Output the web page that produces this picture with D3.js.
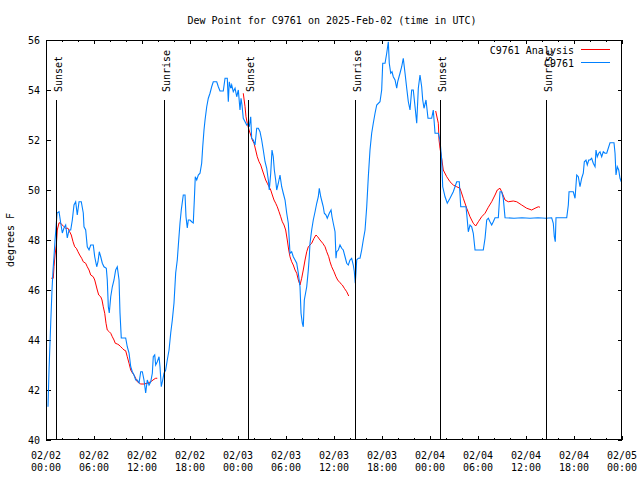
<!DOCTYPE html>
<html><head><meta charset="utf-8">
<script src="https://cdn.jsdelivr.net/npm/d3@7"></script>
<style>
html,body{margin:0;padding:0;background:#fff;}
svg{display:block;font-family:"DejaVu Sans Mono",monospace;font-size:10px;}
</style></head><body>
<svg id="chart" width="640" height="480"></svg>
<script>
const chartTitle = "Dew Point for C9761 on 2025-Feb-02 (time in UTC)";
const yAxisLabel = "degrees F";
const seriesNames = ["C9761 Analysis", "C9761"];
const seriesColors = ["#ff0000", "#0080ff"];
const yTickValues = [40, 42, 44, 46, 48, 50, 52, 54, 56];
const xMajorHours = [0, 6, 12, 18, 24, 30, 36, 42, 48, 54, 60, 66, 72];
const xMinorHours = [2, 4, 8, 10, 14, 16, 20, 22, 26, 28, 32, 34, 38, 40, 44, 46, 50, 52, 56, 58, 62, 64, 68, 70];
const sunHours = [1.30, 14.78, 25.25, 38.66, 49.25, 62.6];
const sunLabels = ["Sunset", "Sunrise", "Sunset", "Sunrise", "Sunset", "Sunrise"];

// Observations: [hours since 2025-02-02 00:00 UTC, dew point F]
const observed = [
[0.25,41.33],[0.38,42.8],[0.59,44.68],[0.75,46.0],[0.88,46.8],[1.0,47.33],[1.13,48.0],[1.25,48.48],[1.38,49.08],[1.63,49.13],
[1.84,48.68],[2.04,48.28],[2.25,48.48],[2.46,48.6],[2.66,48.08],[2.88,48.4],[3.09,48.4],[3.29,48.8],[3.5,49.4],[3.71,49.53],
[3.91,49.0],[4.13,49.53],[4.41,49.53],[4.66,49.08],[4.75,48.53],[4.96,48.4],[5.16,47.73],[5.38,47.6],[5.59,47.8],[5.91,47.8],
[6.09,47.33],[6.34,46.93],[6.5,47.13],[6.66,47.53],[6.84,47.33],[7.04,47.07],[7.25,46.93],[7.54,46.87],[7.66,46.4],[7.79,45.33],
[7.91,45.08],[8.09,45.73],[8.29,46.13],[8.5,46.4],[8.71,46.8],[8.91,46.93],[9.13,46.4],[9.25,45.08],[9.41,44.08],[9.96,44.08],
[10.16,43.73],[10.38,43.48],[10.59,42.93],[10.79,42.73],[11.0,42.6],[11.21,42.4],[11.41,42.4],[11.63,42.28],[11.84,42.73],[12.04,42.73],
[12.25,42.4],[12.46,41.88],[12.66,42.4],[12.88,42.2],[13.09,42.33],[13.29,42.67],[13.41,43.33],[13.59,43.4],[13.71,43.0],[13.91,43.13],
[14.13,43.33],[14.25,42.93],[14.41,42.13],[14.59,42.4],[14.75,42.67],[14.96,42.8],[15.16,43.2],[15.38,43.6],[15.59,44.28],[15.79,44.8],
[16.0,45.48],[16.21,46.68],[16.41,47.2],[16.59,48.0],[16.75,48.68],[16.91,49.2],[17.16,49.8],[17.38,49.8],[17.5,48.93],[17.66,48.48],
[17.79,48.8],[18.0,48.8],[18.21,48.73],[18.41,48.68],[18.54,49.6],[18.66,50.53],[18.84,50.4],[19.04,50.6],[19.25,50.67],[19.46,51.07],
[19.59,51.73],[19.75,52.4],[19.88,52.8],[20.09,53.33],[20.29,53.67],[20.5,53.87],[20.71,54.13],[20.91,54.33],[21.34,54.33],[21.54,54.13],
[21.75,53.96],[22.16,53.96],[22.38,54.47],[22.66,54.47],[22.79,53.53],[22.91,54.33],[23.09,54.07],[23.21,54.2],[23.41,53.93],[23.63,54.07],
[23.84,53.73],[24.04,54.0],[24.25,53.2],[24.38,53.67],[24.5,53.4],[24.66,52.87],[24.88,52.73],[25.09,52.6],[25.29,52.67],[25.41,52.53],
[25.59,52.93],[25.71,52.07],[25.91,52.0],[26.13,51.8],[26.34,52.47],[26.54,52.47],[26.75,52.33],[26.96,52.0],[27.16,51.6],[27.38,51.13],
[27.59,50.87],[27.79,50.4],[27.91,50.0],[28.09,50.67],[28.25,51.6],[28.41,51.33],[28.54,50.8],[28.71,50.4],[28.84,50.0],[29.04,50.27],
[29.25,50.6],[29.46,50.13],[29.66,49.87],[29.88,49.6],[30.09,49.07],[30.29,48.67],[30.5,47.47],[30.71,47.53],[30.91,47.33],[31.13,47.2],
[31.34,47.07],[31.54,46.67],[31.75,46.13],[31.88,45.07],[32.04,44.67],[32.16,44.53],[32.29,45.6],[32.59,46.13],[32.79,46.8],[32.91,47.33],
[33.0,47.87],[33.21,48.4],[33.41,48.8],[33.63,49.13],[33.84,49.47],[34.04,49.73],[34.16,50.07],[34.34,49.73],[34.5,49.53],[34.66,49.33],
[34.79,49.07],[35.0,49.0],[35.16,48.87],[35.41,49.07],[35.63,49.2],[35.75,48.93],[35.91,48.67],[36.13,48.33],[36.25,47.27],[36.34,47.53],
[36.54,47.6],[36.75,47.8],[36.96,47.67],[37.16,47.6],[37.38,47.33],[37.59,47.07],[37.79,47.0],[38.0,47.2],[38.21,47.27],[38.41,47.0],
[38.54,46.73],[38.66,46.27],[38.84,47.2],[39.04,47.27],[39.25,47.27],[39.46,47.6],[39.66,48.0],[39.88,48.4],[40.09,49.33],[40.29,50.53],
[40.5,51.6],[40.71,52.27],[40.91,52.67],[41.13,53.07],[41.34,53.4],[41.75,53.53],[41.96,54.0],[42.09,55.07],[42.38,55.07],[42.59,55.47],
[42.79,55.93],[42.91,55.07],[43.09,54.67],[43.25,54.73],[43.41,54.53],[43.63,54.4],[43.84,54.07],[43.96,54.33],[44.13,54.53],[44.25,54.67],
[44.46,54.93],[44.66,55.27],[44.88,54.67],[45.09,54.07],[45.29,53.53],[45.5,53.2],[45.71,54.0],[45.91,54.0],[46.13,53.33],[46.34,52.67],
[46.54,54.07],[46.75,54.6],[46.96,54.13],[47.09,53.6],[47.25,53.27],[47.5,53.6],[47.75,52.87],[48.21,52.87],[48.41,53.2],[48.63,52.27],
[49.04,52.27],[49.25,52.0],[49.46,51.2],[49.59,50.13],[49.88,49.73],[50.16,49.47],[50.5,49.67],[50.91,49.93],[51.34,50.33],[51.66,50.33],
[51.84,49.33],[52.5,49.33],[52.66,48.8],[52.79,48.33],[53.0,48.6],[53.21,48.53],[53.41,48.27],[53.63,47.6],[54.66,47.6],[54.88,48.07],
[55.09,48.8],[55.29,48.87],[55.5,48.73],[55.71,48.6],[55.91,48.73],[56.13,48.89],[56.54,48.89],[56.75,49.93],[56.96,49.93],[57.16,49.67],
[57.38,48.89],[58.5,48.87],[59.5,48.89],[60.5,48.87],[61.5,48.89],[62.5,48.87],[63.21,48.89],[63.41,48.67],[63.54,48.13],[63.66,47.93],
[63.75,48.89],[65.09,48.89],[65.29,49.4],[65.38,49.93],[65.91,49.93],[66.13,49.67],[66.34,50.6],[66.54,50.53],[66.75,50.13],[66.96,50.47],
[67.16,50.67],[67.29,51.13],[67.5,51.2],[67.66,51.0],[67.84,51.2],[68.0,51.2],[68.21,51.27],[68.41,51.07],[68.63,50.93],[68.75,51.6],
[68.91,51.33],[69.09,51.47],[69.25,51.53],[69.46,51.33],[69.66,51.53],[69.88,51.47],[70.09,51.47],[70.5,51.89],[71.0,51.89],[71.13,51.47],
[71.25,50.6],[71.41,50.93],[71.59,50.8],[71.75,50.47],[71.91,50.33]
];

// Analysis, three separate runs
const analysisRun1 = [
[0.66,46.47],[0.91,46.47],[1.0,46.93],[1.13,47.4],[1.29,47.8],[1.41,48.4],[1.63,48.69],[1.84,48.67],[2.04,48.6],[2.25,48.53],
[2.46,48.47],[2.75,48.47],[2.96,48.33],[3.16,48.2],[3.38,47.93],[3.59,47.73],[3.79,47.67],[4.0,47.53],[4.21,47.4],[4.46,47.27],
[4.66,47.13],[4.96,47.07],[5.16,46.93],[5.38,46.8],[5.59,46.6],[5.91,46.53],[6.09,46.4],[6.25,46.2],[6.41,46.0],[6.59,45.8],
[6.84,45.73],[7.0,45.6],[7.16,45.33],[7.34,45.07],[7.5,44.67],[7.66,44.4],[7.91,44.33],[8.09,44.27],[8.29,44.13],[8.5,44.0],
[8.66,43.87],[8.91,43.84],[9.13,43.8],[9.34,43.73],[9.54,43.67],[9.75,43.6],[9.96,43.57],[10.16,43.33],[10.38,43.07],[10.59,42.8],
[10.79,42.69],[11.0,42.6],[11.21,42.47],[11.41,42.33],[11.63,42.29],[11.84,42.24],[12.25,42.24],[12.66,42.27],[13.09,42.33],[13.5,42.43],
[13.71,42.47],[13.91,42.47]
];
const analysisRun2 = [
[24.66,53.87],[24.88,53.33],[25.0,52.93],[25.16,52.67],[25.38,52.4],[25.59,52.2],[25.79,52.0],[26.0,51.87],[26.21,51.6],[26.41,51.33],
[26.63,51.13],[26.84,51.0],[27.04,50.8],[27.25,50.6],[27.46,50.4],[27.66,50.27],[27.88,50.13],[28.09,50.0],[28.29,49.8],[28.5,49.6],
[28.71,49.47],[28.91,49.33],[29.13,49.13],[29.34,48.93],[29.54,48.73],[29.75,48.6],[29.96,48.4],[30.16,48.0],[30.34,47.6],[30.5,47.33],
[30.71,47.13],[30.91,47.0],[31.13,46.8],[31.34,46.67],[31.54,46.4],[31.75,46.2],[31.96,46.47],[32.16,46.8],[32.38,47.2],[32.59,47.53],
[32.79,47.73],[33.21,47.87],[33.5,48.07],[33.75,48.2],[33.96,48.13],[34.25,48.0],[34.59,47.87],[34.88,47.73],[35.09,47.53],[35.34,47.33],
[35.5,47.13],[35.71,46.93],[36.0,46.73],[36.25,46.53],[36.46,46.4],[36.75,46.29],[37.04,46.2],[37.29,46.07],[37.59,45.93],[37.84,45.76]
];
const analysisRun3 = [
[48.71,53.16],[49.04,52.67],[49.13,52.0],[49.25,51.67],[49.46,51.27],[49.66,50.8],[50.09,50.53],[50.5,50.33],[50.91,50.2],[51.34,50.13],
[51.75,50.07],[52.16,49.67],[52.59,49.27],[53.0,48.93],[53.41,48.67],[53.71,48.56],[54.04,48.73],[54.46,48.93],[54.88,49.07],[55.29,49.31],
[55.71,49.53],[56.13,49.8],[56.41,50.0],[56.75,50.07],[56.96,49.93],[57.38,49.6],[57.79,49.53],[58.41,49.56],[58.84,49.53],[59.46,49.4],
[60.09,49.27],[60.71,49.2],[61.13,49.27],[61.54,49.33],[61.75,49.31]
];

const t0 = Date.UTC(2025, 1, 2);
const toDate = h => new Date(t0 + h * 3600000);

const svg = d3.select("#chart");
const x = d3.scaleUtc().domain([toDate(0), toDate(72)]).range([46, 622]);
const y = d3.scaleLinear().domain([40, 56]).range([440, 40]);

// title
svg.append("text").attr("x", 332).attr("y", 23.5).attr("text-anchor", "middle").text(chartTitle);
// y label
svg.append("text").attr("transform", "translate(13.5,240) rotate(-90)").attr("text-anchor", "middle").text(yAxisLabel);

// axes
const fmtD = d3.utcFormat("%m/%d"), fmtT = d3.utcFormat("%H:%M");
const majorDates = xMajorHours.map(toDate), minorDates = xMinorHours.map(toDate);
function noText(g){ g.select(".domain").remove(); g.selectAll("text").remove(); g.selectAll("line").attr("stroke","#000").attr("shape-rendering","crispEdges"); }
svg.append("g").attr("transform","translate(0,440)").call(d3.axisBottom(x).tickValues(majorDates).tickSize(-4)).call(noText);
svg.append("g").attr("transform","translate(0,440)").call(d3.axisBottom(x).tickValues(minorDates).tickSize(-2)).call(noText);
svg.append("g").attr("transform","translate(0,40)").call(d3.axisTop(x).tickValues(majorDates).tickSize(-4)).call(noText);
svg.append("g").attr("transform","translate(0,40)").call(d3.axisTop(x).tickValues(minorDates).tickSize(-2)).call(noText);
svg.append("g").attr("transform","translate(622,0)").call(d3.axisRight(y).tickValues(yTickValues).tickSize(-4)).call(noText);
const yl = svg.append("g").attr("transform","translate(46,0)").call(d3.axisLeft(y).tickValues(yTickValues).tickSize(-5).tickPadding(6).tickFormat(d3.format("d")));
yl.select(".domain").remove();
yl.selectAll("line").attr("stroke","#000").attr("shape-rendering","crispEdges");
yl.selectAll("text").attr("fill","#000").attr("font-family","DejaVu Sans Mono").attr("font-size",10);

// x tick labels, two lines
const xl = svg.append("g");
majorDates.forEach(d => {
  const t = xl.append("text").attr("text-anchor","middle");
  t.append("tspan").attr("x", x(d)).attr("y", 458.5).text(fmtD(d));
  t.append("tspan").attr("x", x(d)).attr("y", 470.5).text(fmtT(d));
});

// data lines
const line = d3.line().x(d => x(toDate(d[0]))).y(d => y(d[1]));
const dataG = svg.append("g");
[analysisRun1, analysisRun2, analysisRun3].forEach(run => {
  dataG.append("path").datum(run).attr("d", line).attr("fill","none")
    .attr("stroke", seriesColors[0]).attr("stroke-width", 1);
});
dataG.append("path").datum(observed).attr("d", line).attr("fill","none")
  .attr("stroke", seriesColors[1]).attr("stroke-width", 1.1);

// sun lines
sunHours.forEach((h, i) => {
  const px = Math.floor(x(toDate(h))) + 0.5;
  svg.append("line").attr("x1", px).attr("x2", px).attr("y1", y(40 + 16*0.85)).attr("y2", 440)
    .attr("stroke","#000").attr("stroke-width",1).attr("shape-rendering","crispEdges");
  svg.append("text").attr("transform", `translate(${px + 5.5},${y(40 + 16*0.87)}) rotate(-90)`)
    .attr("text-anchor","start").text(sunLabels[i]);
});

// frame
svg.append("rect").attr("x",46.5).attr("y",40.5).attr("width",575).attr("height",399)
  .attr("fill","none").attr("stroke","#000").attr("shape-rendering","crispEdges");

// legend
const legY = [50, 63];
seriesNames.forEach((n, i) => {
  svg.append("text").attr("x", 574).attr("y", legY[i] + 3.5).attr("text-anchor","end").text(n);
  svg.append("line").attr("x1", 581).attr("x2", 610).attr("y1", legY[i] - 0.5).attr("y2", legY[i] - 0.5)
    .attr("stroke", seriesColors[i]).attr("stroke-width",1).attr("shape-rendering","crispEdges");
});
</script>
</body></html>
